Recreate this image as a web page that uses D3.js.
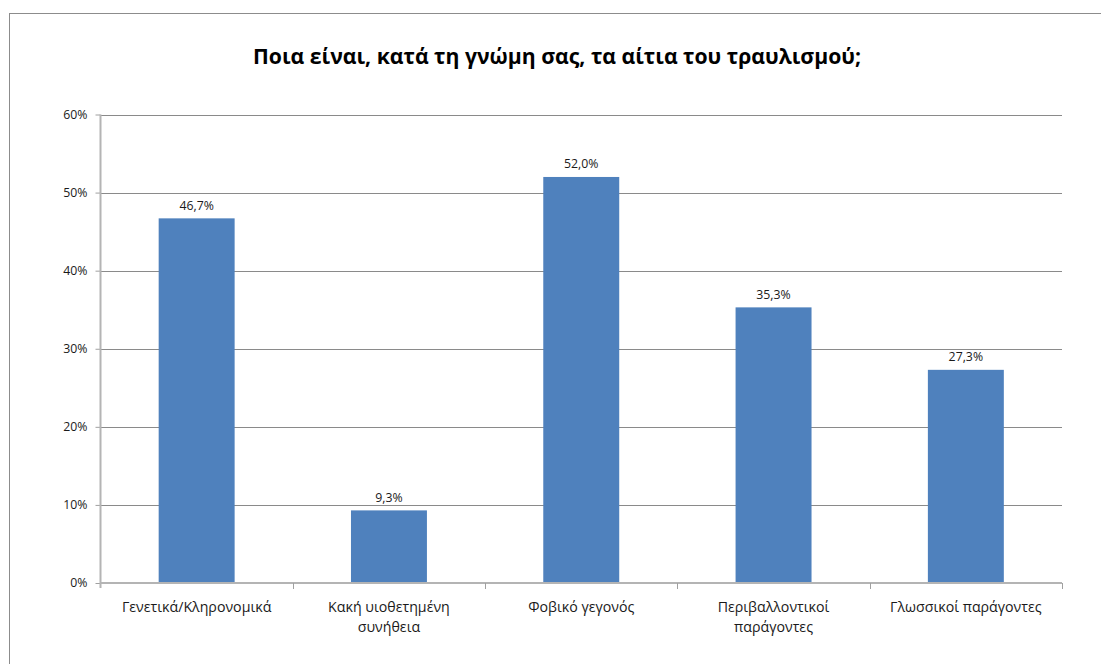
<!DOCTYPE html>
<html>
<head>
<meta charset="utf-8">
<script src="https://cdn.jsdelivr.net/npm/d3@7"></script>
<style>
  html, body { margin: 0; padding: 0; background: #fff; }
  svg { display: block; }
</style>
</head>
<body>
<svg id="chart" width="1101" height="664"></svg>
<script>
// Survey answers: perceived causes of stuttering (% of respondents)
const chartTitle = "Ποια είναι, κατά τη γνώμη σας, τα αίτια του τραυλισμού;";
const categories = [
  "Γενετικά/Κληρονομικά",
  "Κακή υιοθετημένη συνήθεια",
  "Φοβικό γεγονός",
  "Περιβαλλοντικοί παράγοντες",
  "Γλωσσικοί παράγοντες"
];
const values = [46.7, 9.3, 52.0, 35.3, 27.3];
const yTicks = [0, 10, 20, 30, 40, 50, 60];

const FONT = "'Open Sans', 'Noto Sans', sans-serif";
const svg = d3.select("#chart");

// outer chart frame
svg.append("rect")
  .attr("x", 9.5).attr("y", 13.5)
  .attr("width", 1120).attr("height", 700)
  .attr("fill", "#fff").attr("stroke", "#8c8c8c").attr("stroke-width", 1);

const plot = { left: 100.5, right: 1062, top: 114.5, bottom: 583 };

const x = d3.scaleBand()
  .domain(categories)
  .range([plot.left, plot.right])
  .paddingInner(0.605)
  .paddingOuter(0.3025);

const xCat = d3.scaleBand()
  .domain(categories)
  .range([plot.left, plot.right])
  .padding(0);

const y = d3.scaleLinear()
  .domain([0, 60])
  .range([plot.bottom, plot.top]);

// title
svg.append("text")
  .attr("x", 557).attr("y", 64)
  .attr("text-anchor", "middle")
  .attr("font-family", FONT)
  .attr("font-weight", "bold")
  .attr("font-size", 21.2)
  .attr("fill", "#000")
  .text(chartTitle);

// horizontal gridlines
svg.append("g")
  .selectAll("line")
  .data(yTicks.filter(d => d > 0))
  .join("line")
  .attr("x1", plot.left).attr("x2", plot.right)
  .attr("y1", d => Math.round(y(d)) + 0.5)
  .attr("y2", d => Math.round(y(d)) + 0.5)
  .attr("stroke", "#8a8a8a").attr("stroke-width", 1);

// bars
svg.append("g")
  .selectAll("rect")
  .data(values)
  .join("rect")
  .attr("x", (d, i) => x(categories[i]))
  .attr("width", x.bandwidth())
  .attr("y", d => y(d))
  .attr("height", d => y(0) - y(d))
  .attr("fill", "#4f81bd");

// value labels
svg.append("g")
  .selectAll("text")
  .data(values)
  .join("text")
  .attr("x", (d, i) => x(categories[i]) + x.bandwidth() / 2)
  .attr("y", d => y(d) - 8.5)
  .attr("text-anchor", "middle")
  .attr("font-family", FONT)
  .attr("font-size", 12.3)
  .attr("fill", "#1a1a1a")
  .text(d => d3.format(".1f")(d).replace(".", ",") + "%");

// y axis
const yAxis = d3.axisLeft(y)
  .tickValues(yTicks)
  .tickSize(5)
  .tickPadding(8)
  .tickFormat(d => d + "%");
const gy = svg.append("g")
  .attr("transform", `translate(${plot.left},0)`)
  .call(yAxis);
gy.select(".domain").remove();
gy.selectAll(".tick line").attr("stroke", "#a0a0a0");
gy.selectAll(".tick text")
  .attr("font-family", FONT).attr("font-size", 12.3).attr("fill", "#1a1a1a");
svg.append("line")
  .attr("x1", plot.left).attr("x2", plot.left)
  .attr("y1", plot.top).attr("y2", plot.bottom + 5)
  .attr("stroke", "#b4b4b4").attr("stroke-width", 2);

// x axis line and category boundary ticks
svg.append("line")
  .attr("x1", plot.left).attr("x2", plot.right)
  .attr("y1", plot.bottom).attr("y2", plot.bottom)
  .attr("stroke", "#b4b4b4").attr("stroke-width", 2);
svg.append("g")
  .selectAll("line")
  .data(categories)
  .join("line")
  .attr("x1", d => Math.round(xCat(d) + xCat.bandwidth()) + 0.5)
  .attr("x2", d => Math.round(xCat(d) + xCat.bandwidth()) + 0.5)
  .attr("y1", plot.bottom).attr("y2", plot.bottom + 6)
  .attr("stroke", "#a0a0a0").attr("stroke-width", 1);

// category labels, wrapped to fit within each band
const maxW = xCat.bandwidth() * 0.88;
const labels = svg.append("g")
  .selectAll("text")
  .data(categories)
  .join("text")
  .attr("text-anchor", "middle")
  .attr("font-family", FONT)
  .attr("font-size", 14.2)
  .attr("fill", "#1a1a1a");

labels.each(function(d) {
  const t = d3.select(this);
  const cx = xCat(d) + xCat.bandwidth() / 2;
  const words = d.split(" ");
  const lines = [];
  let cur = [];
  const probe = t.append("tspan");
  words.forEach(w => {
    const test = cur.concat([w]).join(" ");
    probe.text(test);
    if (probe.node().getComputedTextLength() > maxW && cur.length) {
      lines.push(cur.join(" "));
      cur = [w];
    } else {
      cur.push(w);
    }
  });
  lines.push(cur.join(" "));
  probe.remove();
  lines.forEach((ln, i) => {
    t.append("tspan")
      .attr("x", cx)
      .attr("y", 611.5 + i * 20.5)
      .text(ln);
  });
});
</script>
</body>
</html>
